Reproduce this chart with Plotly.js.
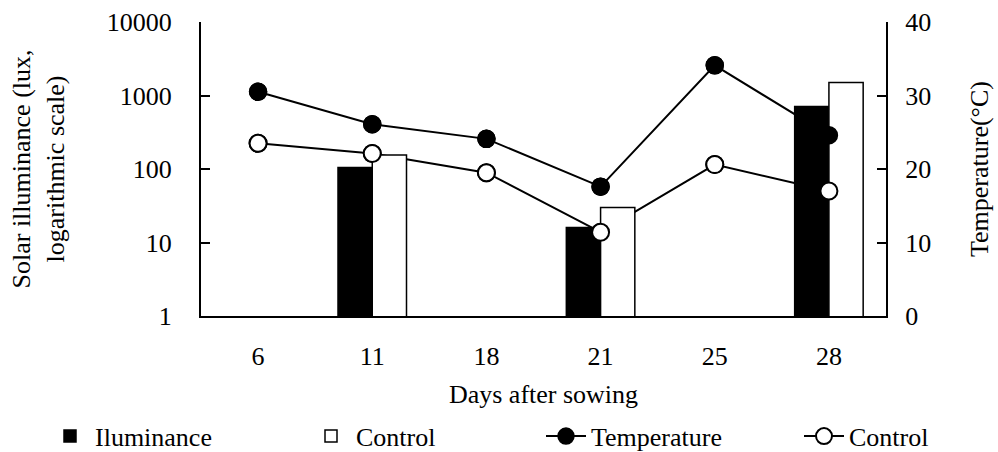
<!DOCTYPE html>
<html>
<head>
<meta charset="utf-8">
<script src="https://cdn.plot.ly/plotly-3.0.1.min.js"></script>
<style>html,body{margin:0;padding:0;background:#fff;}#chart{width:998px;height:452px;}</style>
</head>
<body>
<div id="chart"></div>
<script>
const days = ['6', '11', '18', '21', '25', '28'];
const illuminance = [null, 105, null, 16, null, 710];
const illuminanceControl = [null, 155, null, 30, null, 1500];
const temperature = [30.5, 26.1, 24.1, 17.6, 34.1, 24.6];
const temperatureControl = [23.5, 22.1, 19.5, 11.4, 20.6, 17.0];

const FONT = 'Liberation Serif';

const traces = [
  {x: days, y: temperature, type: 'scatter', mode: 'lines+markers', name: 'Temperature', yaxis: 'y', legend: 'legend3',
   line: {color: '#000', width: 2}, marker: {symbol: 'circle', size: 17, color: '#000', line: {color: '#000', width: 1.5}}},
  {x: days, y: temperatureControl, type: 'scatter', mode: 'lines+markers', name: 'Control', yaxis: 'y', legend: 'legend4',
   line: {color: '#000', width: 2}, marker: {symbol: 'circle', size: 17, color: '#fff', line: {color: '#000', width: 2}}},
  {x: days, y: illuminance, type: 'bar', name: 'Iluminance', yaxis: 'y2', legend: 'legend',
   marker: {color: '#000', line: {color: '#000', width: 1.5}}},
  {x: days, y: illuminanceControl, type: 'bar', name: 'Control', yaxis: 'y2', legend: 'legend2',
   marker: {color: '#fff', line: {color: '#000', width: 1.5}}},
  {x: days, y: temperature, type: 'scatter', mode: 'markers', yaxis: 'y3', showlegend: false, hoverinfo: 'skip',
   marker: {symbol: 'circle', size: 17, color: '#000', line: {color: '#000', width: 1.5}}},
  {x: days, y: temperatureControl, type: 'scatter', mode: 'markers', yaxis: 'y3', showlegend: false, hoverinfo: 'skip',
   marker: {symbol: 'circle', size: 17, color: '#fff', line: {color: '#000', width: 2}}}
];

function legendAt(px) {
  return {orientation: 'h', xref: 'container', yref: 'container', x: px / 998, y: 0.035, yanchor: 'middle', xanchor: 'left',
    itemwidth: 40, font: {family: FONT, size: 26, color: '#000'}, bgcolor: 'rgba(0,0,0,0)'};
}

const layout = {
  width: 998, height: 452,
  margin: {l: 201, r: 112, t: 22, b: 136},
  paper_bgcolor: '#fff', plot_bgcolor: 'rgba(0,0,0,0)',
  font: {family: FONT, size: 26, color: '#000'},
  barmode: 'group', bargap: 0.4, bargroupgap: 0,
  showlegend: true,
  legend: legendAt(45),
  legend2: legendAt(306),
  legend3: legendAt(541),
  legend4: legendAt(799),
  xaxis: {type: 'category', showline: true, linecolor: '#000', linewidth: 2, ticks: '', showgrid: false, zeroline: false,
    ticklabelstandoff: 16, tickfont: {family: FONT, size: 26}, automargin: 'left+right',
    title: {text: 'Days after sowing', font: {family: FONT, size: 26}, standoff: 15}},
  yaxis: {range: [0, 40], side: 'right', tickvals: [0, 10, 20, 30, 40], showline: true, linecolor: '#000', linewidth: 2,
    ticks: 'inside', ticklen: 9, tickwidth: 2, tickcolor: '#000', showgrid: false, zeroline: false,
    ticklabelstandoff: 12, tickfont: {family: FONT, size: 26},
    title: {text: 'Temperature(°C)', font: {family: FONT, size: 26}, standoff: 40}},
  yaxis2: {type: 'log', range: [0, 4], overlaying: 'y', side: 'left', tickvals: [1, 10, 100, 1000, 10000],
    ticktext: ['1', '10', '100', '1000', '10000'], showline: true, linecolor: '#000', linewidth: 2,
    ticks: 'inside', ticklen: 9, tickwidth: 2, tickcolor: '#000', showgrid: false, zeroline: false,
    ticklabelstandoff: 22, tickfont: {family: FONT, size: 26},
    title: {text: 'Solar illuminance (lux,<br>logarithmic scale)', font: {family: FONT, size: 26}, standoff: 35}},
  yaxis3: {range: [0, 40], overlaying: 'y', side: 'right', visible: false, showgrid: false, zeroline: false}
};

Plotly.newPlot('chart', traces, layout, {displayModeBar: false, staticPlot: true});
</script>
</body>
</html>
